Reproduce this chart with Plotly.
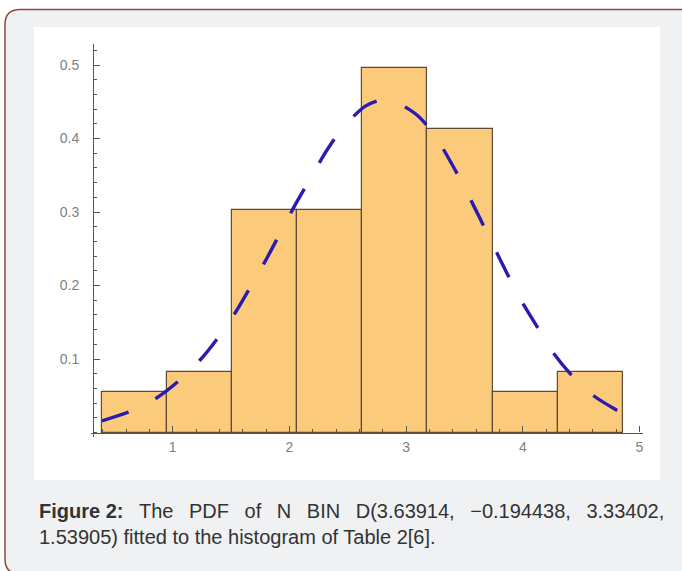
import plotly.graph_objects as go

# ---- data ----
bin_edges = [0.390, 0.949, 1.507, 2.066, 2.625, 3.183, 3.742, 4.301, 4.860]
bar_heights = [0.055, 0.083, 0.303, 0.303, 0.496, 0.413, 0.055, 0.083]

curve_x = [0.394, 0.623, 0.852, 1.043, 1.231, 1.374, 1.540, 1.666, 1.803, 1.923,
           2.054, 2.174, 2.317, 2.459, 2.651, 2.774, 2.874, 3.093, 3.254, 3.393,
           3.511, 3.637, 3.745, 3.873, 3.988, 4.130, 4.259, 4.430, 4.616, 4.830, 4.924]
curve_y = [0.016, 0.028, 0.046, 0.069, 0.098, 0.126, 0.164, 0.198, 0.236, 0.272,
           0.311, 0.344, 0.383, 0.415, 0.444, 0.452, 0.452, 0.432, 0.402, 0.365,
           0.330, 0.290, 0.255, 0.214, 0.179, 0.142, 0.109, 0.076, 0.049, 0.028, 0.019]

x_tickvals = [1, 2, 3, 4, 5]
x_ticktext = ["1", "2", "3", "4", "5"]
y_tickvals = [0.1, 0.2, 0.3, 0.4, 0.5]
y_ticktext = ["0.1", "0.2", "0.3", "0.4", "0.5"]

caption_line1_words = ["<b>Figure 2:</b>", "The", "PDF", "of", "N", "BIN",
                       "D(3.63914,", "\u22120.194438,", "3.33402,"]
caption_line2 = "1.53905) fitted to the histogram of Table 2[6]."

# ---- layout geometry ----
W, H = 682, 571
ML, MR, MT, MB = 91, 39, 44, 134
PW, PH = W - ML - MR, H - MT - MB
X_RANGE = [0.30, 5.03]
Y_RANGE = [-0.0061, 0.5286]


def px_x(p):
    return (p - ML) / PW


def px_y(p):
    return (H - MB - p) / PH


centers = [(a + b) / 2 for a, b in zip(bin_edges[:-1], bin_edges[1:])]
widths = [b - a for a, b in zip(bin_edges[:-1], bin_edges[1:])]

fig = go.Figure()
fig.add_trace(go.Bar(
    x=centers, y=bar_heights, width=widths,
    marker=dict(color="rgb(252,202,123)", line=dict(color="#5e4a36", width=1.2)),
    hoverinfo="skip", showlegend=False,
))
fig.add_trace(go.Scatter(
    x=curve_x, y=curve_y, mode="lines",
    line=dict(color="#2a1cae", width=3.4, dash="28px,30px", shape="spline", smoothing=0.8),
    hoverinfo="skip", showlegend=False,
))

# card background with rounded border
x0, x1, y0, y1, r = 5, 700, 9.5, 574, 15
rx, ry = r / PW, r / PH
X0, X1, Y0, Y1 = px_x(x0), px_x(x1), px_y(y0), px_y(y1)
card_path = (f"M {X0} {Y0 - ry} L {X0} {Y1 + ry} Q {X0} {Y1} {X0 + rx} {Y1} "
             f"L {X1 - rx} {Y1} Q {X1} {Y1} {X1} {Y1 + ry} L {X1} {Y0 - ry} "
             f"Q {X1} {Y0} {X1 - rx} {Y0} L {X0 + rx} {Y0} Q {X0} {Y0} {X0} {Y0 - ry} Z")

shapes = [
    dict(type="path", xref="paper", yref="paper", path=card_path,
         fillcolor="#f0f1f3", line=dict(color="#8e4b3c", width=1.5), layer="below"),
    dict(type="rect", xref="paper", yref="paper",
         x0=px_x(34), x1=px_x(660), y0=px_y(480), y1=px_y(27),
         fillcolor="white", line=dict(width=0), layer="below"),
]

cap_font = dict(family="Liberation Sans, Arial, sans-serif", size=20, color="#333333")
sep = "\u00a0\u2002"
line1 = sep.join(caption_line1_words)

annotations = [
    dict(xref="paper", yref="paper", x=px_x(37), y=px_y(511),
         xanchor="left", yanchor="middle", align="left", showarrow=False,
         text=line1, font=cap_font),
    dict(xref="paper", yref="paper", x=px_x(37), y=px_y(537),
         xanchor="left", yanchor="middle", align="left", showarrow=False,
         text=caption_line2, font=cap_font),
]

tick_font = dict(family="Liberation Sans, Arial, sans-serif", size=14, color="#808080")

fig.update_layout(
    width=W, height=H,
    margin=dict(l=ML, r=MR, t=MT, b=MB, pad=0),
    paper_bgcolor="white", plot_bgcolor="rgba(0,0,0,0)",
    shapes=shapes, bargap=0,
    xaxis=dict(range=X_RANGE, showgrid=False, zeroline=False,
               showline=True, linecolor="#555555", linewidth=1.2,
               anchor="free", position=(0 - Y_RANGE[0]) / (Y_RANGE[1] - Y_RANGE[0]),
               tickmode="array", tickvals=x_tickvals, ticktext=x_ticktext,
               ticks="inside", ticklen=6, tickcolor="#555555", tickwidth=1,
               minor=dict(dtick=0.2, tick0=0, ticks="inside", ticklen=3,
                          tickcolor="#555555", tickwidth=1, showgrid=False),
               tickfont=tick_font, ticklabelstandoff=2),
    yaxis=dict(range=Y_RANGE, showgrid=False, zeroline=False,
               showline=True, linecolor="#555555", linewidth=1.2,
               anchor="free", position=(0.318 - X_RANGE[0]) / (X_RANGE[1] - X_RANGE[0]),
               tickmode="array", tickvals=y_tickvals, ticktext=y_ticktext,
               ticks="inside", ticklen=6, tickcolor="#555555", tickwidth=1,
               minor=dict(dtick=0.02, tick0=0, ticks="inside", ticklen=3,
                          tickcolor="#555555", tickwidth=1, showgrid=False),
               tickfont=tick_font, ticklabelstandoff=11),
    annotations=annotations,
)

fig.write_html("out.html",
               config={"displayModeBar": False},
               post_script="document.body.style.margin='0';document.body.style.padding='0';")
